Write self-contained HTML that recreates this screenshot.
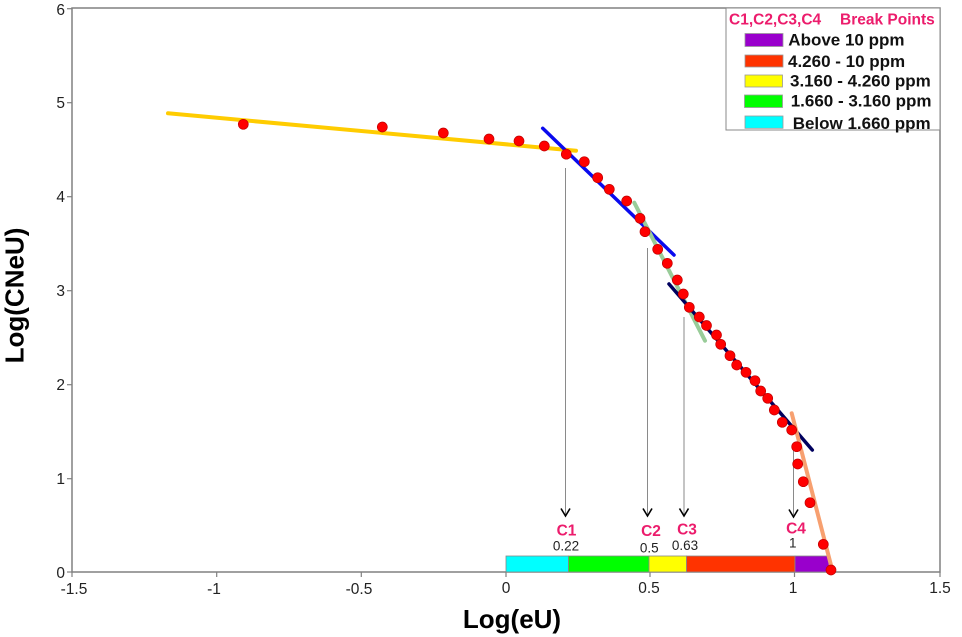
<!DOCTYPE html>
<html>
<head>
<meta charset="utf-8">
<style>
html,body{margin:0;padding:0;background:#fff;}
svg{display:block;}
text{font-family:"Liberation Sans",Arial,sans-serif;}
</style>
</head>
<body>
<svg width="962" height="637" viewBox="0 0 962 637" xmlns="http://www.w3.org/2000/svg">
<rect width="962" height="637" fill="#fff"/>
<!-- plot frame -->
<rect x="72" y="8" width="868" height="564" fill="none" stroke="#808080" stroke-width="1.5"/>
<!-- y ticks -->
<g stroke="#808080" stroke-width="1.2">
<line x1="67" y1="8.7" x2="72" y2="8.7"/>
<line x1="67" y1="102.7" x2="72" y2="102.7"/>
<line x1="67" y1="196.7" x2="72" y2="196.7"/>
<line x1="67" y1="290.7" x2="72" y2="290.7"/>
<line x1="67" y1="384.7" x2="72" y2="384.7"/>
<line x1="67" y1="478.7" x2="72" y2="478.7"/>
<line x1="67" y1="572" x2="72" y2="572"/>
<line x1="72" y1="572" x2="72" y2="577"/>
<line x1="216.7" y1="572" x2="216.7" y2="577"/>
<line x1="361.3" y1="572" x2="361.3" y2="577"/>
<line x1="506" y1="572" x2="506" y2="577"/>
<line x1="650" y1="572" x2="650" y2="577"/>
<line x1="794.5" y1="572" x2="794.5" y2="577"/>
<line x1="940" y1="572" x2="940" y2="577"/>
</g>
<g font-size="15.5" fill="#222" text-anchor="end">
<text x="65" y="15">6</text>
<text x="65" y="108">5</text>
<text x="65" y="202">4</text>
<text x="65" y="296">3</text>
<text x="65" y="390">2</text>
<text x="65" y="484">1</text>
<text x="65" y="578">0</text>
</g>
<g font-size="15.5" fill="#222" text-anchor="middle">
<text x="74" y="594">-1.5</text>
<text x="214" y="594">-1</text>
<text x="359" y="594">-0.5</text>
<text x="506" y="593">0</text>
<text x="649" y="593">0.5</text>
<text x="793" y="593">1</text>
<text x="940" y="593">1.5</text>
</g>
<!-- axis titles -->
<text x="512" y="628" font-size="26" font-weight="bold" text-anchor="middle" fill="#000">Log(eU)</text>
<text transform="translate(23.5,295.5) rotate(-90)" font-size="26" font-weight="bold" text-anchor="middle" fill="#000">Log(CNeU)</text>

<!-- color bar -->
<g stroke="#888" stroke-width="0.8">
<rect x="506" y="556" width="62.5" height="16" fill="#00ffff"/>
<rect x="568.5" y="556" width="80.5" height="16" fill="#00ff00"/>
<rect x="649" y="556" width="37.5" height="16" fill="#ffff00"/>
<rect x="686.5" y="556" width="108.5" height="16" fill="#ff3300"/>
<rect x="795" y="556" width="34" height="16" fill="#9900cc"/>
</g>

<!-- vertical gray lines to arrows -->
<g stroke="#8a8a8a" stroke-width="1">
<line x1="565.5" y1="168" x2="565.5" y2="515"/>
<line x1="647.5" y1="248" x2="647.5" y2="515"/>
<line x1="684" y1="317" x2="684" y2="515"/>
<line x1="793.5" y1="450" x2="793.5" y2="515"/>
</g>
<g stroke="#000" stroke-width="1.6" fill="none">
<path d="M561,508.5 L565.5,516 L570,508.5"/>
<path d="M643,508.5 L647.5,516 L652,508.5"/>
<path d="M679.5,508.5 L684,516 L688.5,508.5"/>
<path d="M789,509.5 L793.5,517 L798,509.5"/>
</g>
<!-- C labels -->
<g font-size="15.5" font-weight="bold" fill="#ec1c6c" text-anchor="middle">
<text x="566.5" y="535.5">C1</text>
<text x="651" y="536">C2</text>
<text x="687" y="534.5">C3</text>
<text x="796" y="533.5">C4</text>
</g>
<g font-size="13.5" fill="#222" text-anchor="middle">
<text x="566" y="550.5">0.22</text>
<text x="649.3" y="552.5">0.5</text>
<text x="685" y="550">0.63</text>
<text x="792.7" y="547.5">1</text>
</g>

<!-- fitted lines -->
<line x1="168" y1="113.3" x2="576" y2="150.7" stroke="#ffcc00" stroke-width="4" stroke-linecap="round"/>
<line x1="542.7" y1="128.3" x2="674" y2="255" stroke="#0a0aee" stroke-width="3.5" stroke-linecap="round"/>
<line x1="634.3" y1="202.7" x2="705" y2="340.7" stroke="#99cc99" stroke-width="4" stroke-linecap="round"/>
<line x1="669" y1="284" x2="812.3" y2="450" stroke="#00005e" stroke-width="3.5" stroke-linecap="round"/>
<line x1="791.7" y1="413.3" x2="832.7" y2="571.7" stroke="#f7a070" stroke-width="4" stroke-linecap="round"/>

<!-- data points -->
<g fill="#ff0000" stroke="#c00000" stroke-width="0.7">
<circle cx="243.3" cy="124.3" r="5"/>
<circle cx="382.3" cy="127" r="5"/>
<circle cx="443.3" cy="133" r="5"/>
<circle cx="489" cy="139" r="5"/>
<circle cx="519" cy="141" r="5"/>
<circle cx="544.3" cy="146" r="5"/>
<circle cx="566.3" cy="154.2" r="5"/>
<circle cx="584.3" cy="161.7" r="5"/>
<circle cx="597.7" cy="177.7" r="5"/>
<circle cx="609.3" cy="189.3" r="5"/>
<circle cx="626.7" cy="201" r="5"/>
<circle cx="640" cy="218.3" r="5"/>
<circle cx="645" cy="231.7" r="5"/>
<circle cx="657.7" cy="249.3" r="5"/>
<circle cx="667.3" cy="263.3" r="5"/>
<circle cx="677.3" cy="280" r="5"/>
<circle cx="683.3" cy="294" r="5"/>
<circle cx="689.3" cy="307.3" r="5"/>
<circle cx="699.3" cy="317" r="5"/>
<circle cx="706.5" cy="325.5" r="5"/>
<circle cx="716.5" cy="335" r="5"/>
<circle cx="720.7" cy="344.3" r="5"/>
<circle cx="730" cy="355.7" r="5"/>
<circle cx="736.7" cy="365" r="5"/>
<circle cx="746" cy="372.3" r="5"/>
<circle cx="755" cy="380.7" r="5"/>
<circle cx="760.7" cy="391" r="5"/>
<circle cx="767.7" cy="398.3" r="5"/>
<circle cx="774.3" cy="410" r="5"/>
<circle cx="782.3" cy="422.3" r="5"/>
<circle cx="791.7" cy="430" r="5"/>
<circle cx="796.7" cy="446.7" r="5"/>
<circle cx="797.7" cy="464" r="5"/>
<circle cx="803.3" cy="481.7" r="5"/>
<circle cx="810" cy="502.7" r="5"/>
<circle cx="823.3" cy="544.3" r="5"/>
<circle cx="831" cy="570" r="5"/>
</g>

<!-- legend -->
<rect x="726" y="8" width="214" height="122" fill="#fff" stroke="#888" stroke-width="1"/>
<text x="729" y="24.5" font-size="15.5" font-weight="bold" fill="#ec1c6c">C1,C2,C3,C4</text>
<text x="840" y="24.5" font-size="15.5" font-weight="bold" fill="#ec1c6c">Break Points</text>
<g stroke="#999" stroke-width="0.8">
<rect x="745" y="33.5" width="38" height="13" fill="#9900cc"/>
<rect x="745" y="55" width="38" height="12" fill="#ff3300"/>
<rect x="745" y="75" width="37.5" height="12" fill="#ffff00"/>
<rect x="744.5" y="95" width="38" height="12.5" fill="#00ff00"/>
<rect x="745" y="116" width="38" height="12.3" fill="#00ffff"/>
</g>
<g font-size="17" font-weight="bold" fill="#111">
<text x="788.3" y="45.5">Above 10 ppm</text>
<text x="788" y="67">4.260 - 10 ppm</text>
<text x="790" y="86.5">3.160 - 4.260 ppm</text>
<text x="790.7" y="106.5">1.660 - 3.160 ppm</text>
<text x="792.7" y="129">Below 1.660 ppm</text>
</g>
</svg>
</body>
</html>
